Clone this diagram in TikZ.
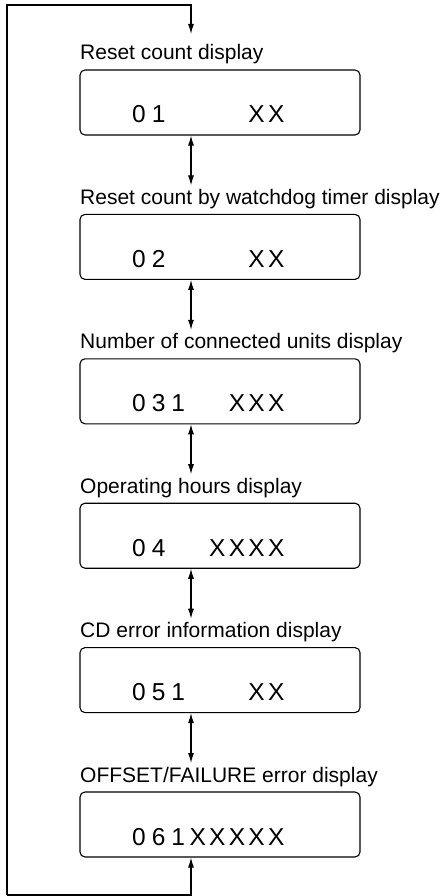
\documentclass[tikz,border=0pt]{standalone}
\usepackage{fontspec}
\setmainfont{Liberation Sans}
\usetikzlibrary{arrows.meta}
\newcommand\lcdcell[1]{\makebox[19.6pt][c]{#1}}
\newcommand\lcdrow[8]{\lcdcell{#1}\lcdcell{#2}\lcdcell{#3}\lcdcell{#4}\lcdcell{#5}\lcdcell{#6}\lcdcell{#7}\lcdcell{#8}}
\tikzset{
  dispbox/.style={draw, line width=1.1pt, rounded corners=5pt, minimum width=280pt, minimum height=65pt, inner sep=0pt},
  lbl/.style={anchor=base west, inner sep=0pt, font=\fontsize{21}{25}\selectfont},
  lcd/.style={anchor=base west, inner sep=0pt, font=\fontsize{24.5}{28}\selectfont},
  link/.style={line width=1.1pt, {Latex[length=10pt,width=6pt]}-{Latex[length=10pt,width=6pt]}},
  loopline/.style={line width=1.1pt, -{Latex[length=10pt,width=6pt]}},
}
\begin{document}
\begin{tikzpicture}[x=1pt,y=-1pt]
\useasboundingbox (0,0) rectangle (445,896);
% boxes
\node[dispbox] (b1) at (220,102.5) {};
\node[dispbox] (b2) at (220,246.9) {};
\node[dispbox] (b3) at (220,391.3) {};
\node[dispbox] (b4) at (220,535.7) {};
\node[dispbox] (b5) at (220,680.1) {};
\node[dispbox] (b6) at (220,824.5) {};
% labels
\node[lbl] (l1) at (80,60) {Reset count display};
\node[lbl] (l2) at (80,204.4) {Reset count by watchdog timer display};
\node[lbl] (l3) at (80,348.8) {Number of connected units display};
\node[lbl] (l4) at (80,493.2) {Operating hours display};
\node[lbl] (l5) at (80,637.6) {CD error information display};
\node[lbl] (l6) at (80,782) {OFFSET/FAILURE error display};
% lcd texts
\node[lcd] (t1) at (129,123) {\lcdrow{0}{1}{}{}{}{}{X}{X}};
\node[lcd] (t2) at (129,267.4) {\lcdrow{0}{2}{}{}{}{}{X}{X}};
\node[lcd] (t3) at (129,411.8) {\lcdrow{0}{3}{1}{}{}{X}{X}{X}};
\node[lcd] (t4) at (129,556.2) {\lcdrow{0}{4}{}{}{X}{X}{X}{X}};
\node[lcd] (t5) at (129,700.6) {\lcdrow{0}{5}{1}{}{}{}{X}{X}};
\node[lcd] (t6) at (129,845) {\lcdrow{0}{6}{1}{X}{X}{X}{X}{X}};
% arrow anchors
\coordinate (ax) at (191,0);
\coordinate (in1) at (191,34);
\coordinate (in2) at (191,185.4);
\coordinate (in3) at (191,329.8);
\coordinate (in4) at (191,474.2);
\coordinate (in5) at (191,618.6);
\coordinate (in6) at (191,763);
\coordinate (top) at (191,5);
\coordinate (bot) at (191,895);
\coordinate (tl) at (7,5);
\coordinate (bl) at (7,895);
% connectors
\draw[link] (b1.south -| ax) -- (in2);
\draw[link] (b2.south -| ax) -- (in3);
\draw[link] (b3.south -| ax) -- (in4);
\draw[link] (b4.south -| ax) -- (in5);
\draw[link] (b5.south -| ax) -- (in6);
\draw[loopline] (bl) -- (tl) -- (top) -- (in1);
\draw[loopline] (bl) -- (bot) -- (b6.south -| ax);
\end{tikzpicture}
\end{document}
